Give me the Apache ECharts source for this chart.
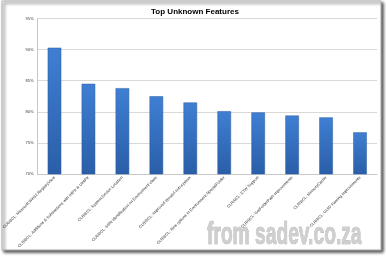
<!DOCTYPE html>
<html>
<head>
<meta charset="utf-8">
<script src="https://cdn.jsdelivr.net/npm/echarts@6/dist/echarts.min.js"></script>
<style>
  html, body { margin: 0; padding: 0; background: #fff; }
  #chart { width: 386px; height: 256px; }
</style>
</head>
<body>
<div id="chart"></div>
<script>
  // features (x axis)
  var features = [
    'CLR/BCL: Microsoft.Win32.RegistryView',
    'CLR/BCL: Additions & Subtractions with IntPtr & UIntPtr',
    'CLR/BCL: System.Device.Location',
    'CLR/BCL: 64bit identification on Environment class',
    'CLR/BCL: Improved Wow64 sub-system',
    'CLR/BCL: New options in Environment.SpecialFolder',
    'CLR/BCL: ETW Support',
    'CLR/BCL: GetFolderPath improvements',
    'CLR/BCL: MemoryCache',
    'CLR/BCL: GUID Parsing improvements'
  ];
  // % of people who did not know the feature
  var unknownPct = [90.3, 84.5, 83.8, 82.5, 81.5, 80.1, 79.9, 79.4, 79.1, 76.7];

  var chart = echarts.init(document.getElementById('chart'));

  var option = {
    backgroundColor: '#ffffff',
    animation: false,
    title: {
      text: 'Top Unknown Features',
      left: 190,
      top: 3,
      textAlign: 'center',
      textStyle: { fontFamily: 'Liberation Sans', fontSize: 8, fontWeight: 'bold', color: '#000' }
    },
    grid: { left: 36, right: 9, top: 18.5, bottom: 82 },
    xAxis: {
      type: 'category',
      data: features,
      axisLine: { lineStyle: { color: '#c8c8c8' } },
      axisTick: { show: false },
      axisLabel: {
        interval: 0,
        rotate: 45,
        fontSize: 4,
        color: '#333',
        fontFamily: 'Liberation Sans',
        margin: 3
      }
    },
    yAxis: {
      type: 'value',
      min: 70,
      max: 95,
      interval: 5,
      axisLine: { show: true, lineStyle: { color: '#c8c8c8' } },
      axisTick: { show: false },
      splitLine: { lineStyle: { color: '#d9d9d9' } },
      axisLabel: {
        formatter: '{value}%',
        fontSize: 4,
        color: '#333',
        fontFamily: 'Liberation Sans',
        margin: 4
      }
    },
    series: [{
      type: 'bar',
      data: unknownPct,
      barWidth: '40%',
      itemStyle: {
        color: new echarts.graphic.LinearGradient(0, 0, 0, 1, [
          { offset: 0, color: '#3f7fd3' },
          { offset: 1, color: '#2a5ea8' }
        ]),
        borderColor: '#2d5f9e',
        borderWidth: 0.5
      }
    }],
    graphic: [
      {
        type: 'rect',
        z: -10,
        shape: { x: 2, y: 1, width: 379, height: 249 },
        style: {
          fill: '#fff',
          stroke: '#b0b0b0',
          lineWidth: 1,
          shadowColor: 'rgba(0,0,0,0.7)',
          shadowBlur: 3,
          shadowOffsetX: 2,
          shadowOffsetY: 2
        }
      },
      {
        type: 'text',
        x: 207,
        y: 220,
        scaleX: 0.62,
        style: {
          text: 'from sadev.co.za',
          fontFamily: 'Liberation Sans',
          fontWeight: 'bold',
          fontSize: 31,
          fill: '#cfcfcf',
          stroke: '#9a9a9a',
          lineWidth: 0.6,
          shadowColor: 'rgba(0,0,0,0.55)',
          shadowBlur: 2,
          shadowOffsetX: 1.5,
          shadowOffsetY: 1.5
        }
      }
    ]
  };

  chart.setOption(option);
</script>
</body>
</html>
